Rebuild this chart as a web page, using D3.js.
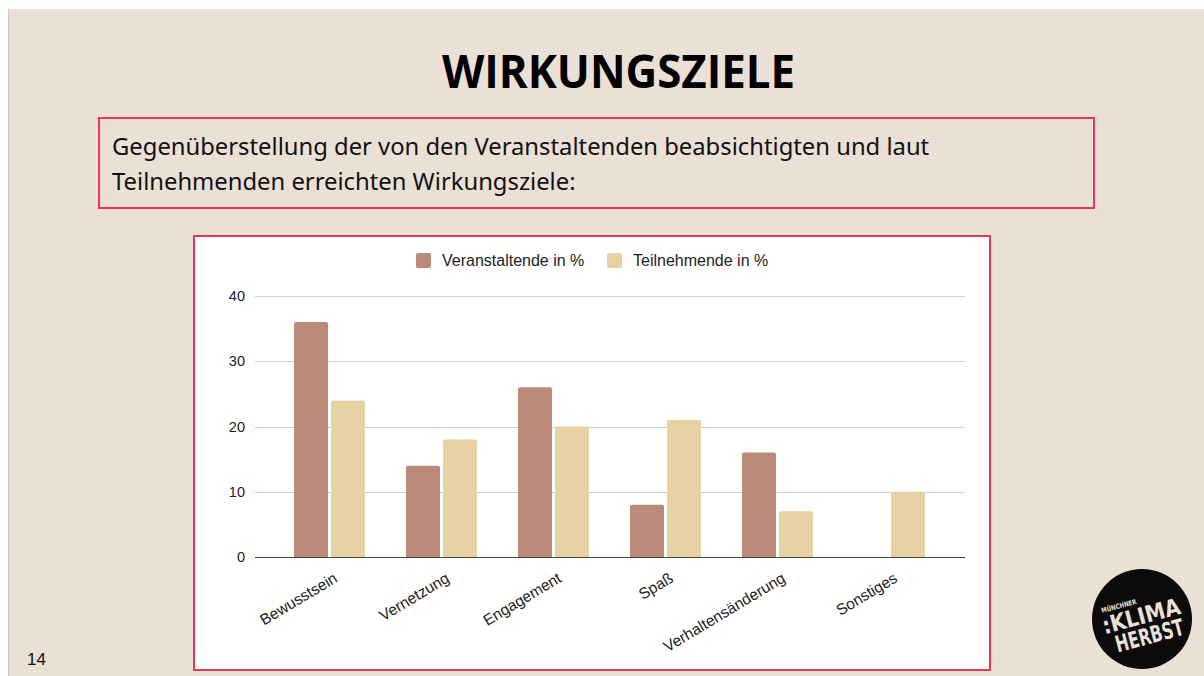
<!DOCTYPE html>
<html>
<head>
<meta charset="utf-8">
<script src="https://cdn.jsdelivr.net/npm/d3@7"></script>
<style>
  html, body { margin: 0; padding: 0; background: #fff; }
  svg { display: block; }
</style>
</head>
<body>
<script>
'use strict';

// chart data
var categories = ["Bewusstsein", "Vernetzung", "Engagement", "Spaß", "Verhaltensänderung", "Sonstiges"];
var seriesNames = ["Veranstaltende in %", "Teilnehmende in %"];
var veranstaltende = [36, 14, 26, 8, 16, 0];
var teilnehmende = [24, 18, 20, 21, 7, 10];
var yTicks = [0, 10, 20, 30, 40];
var seriesColors = ["#bc8a7b", "#e6d1a3"];

var W = 1204, H = 676;
var svg = d3.select("body").append("svg")
    .attr("width", W)
    .attr("height", H);

// slide background
svg.append("rect").attr("width", W).attr("height", H).attr("fill", "#ffffff");
svg.append("rect")
    .attr("x", 8).attr("y", 9)
    .attr("width", W - 8).attr("height", H - 9)
    .attr("fill", "#eae0d6");
svg.append("line")
    .attr("x1", 8.5).attr("x2", 8.5).attr("y1", 9).attr("y2", H)
    .attr("stroke", "#c9c9c9");

// title
svg.append("text")
    .attr("x", 442).attr("y", 88)
    .attr("font-family", "'Open Sans', sans-serif")
    .attr("font-weight", 700)
    .attr("font-size", 46)
    .attr("textLength", 353)
    .attr("lengthAdjust", "spacingAndGlyphs")
    .attr("fill", "#000")
    .text("WIRKUNGSZIELE");

// subtitle box
svg.append("rect")
    .attr("x", 99).attr("y", 118)
    .attr("width", 995).attr("height", 90)
    .attr("fill", "none")
    .attr("stroke", "#e6385a")
    .attr("stroke-width", 2);

var sub = ["Gegenüberstellung der von den Veranstaltenden beabsichtigten und laut",
           "Teilnehmenden erreichten Wirkungsziele:"];
sub.forEach(function(s, i) {
    svg.append("text")
        .attr("x", 112).attr("y", 155 + i * 35)
        .attr("font-family", "'Noto Sans', sans-serif")
        .attr("font-size", 23.8)
        .attr("fill", "#111")
        .text(s);
});

// chart panel
svg.append("rect")
    .attr("x", 194).attr("y", 236)
    .attr("width", 796).attr("height", 434)
    .attr("fill", "#ffffff")
    .attr("stroke", "#e6385a")
    .attr("stroke-width", 2);

var plotLeft = 255, plotRight = 965;
var y = d3.scaleLinear().domain([0, 40]).range([557, 296]);
var x0 = d3.scaleBand().domain(categories).range([273.5, 945.5])
    .paddingInner(0.366).paddingOuter(0.183);
var x1 = d3.scaleBand().domain(seriesNames).range([0, x0.bandwidth()]).paddingInner(0.08);

var labelFont = "'Liberation Sans', Arial, sans-serif";

// grid
var g = svg.append("g");
g.append("g")
    .selectAll("line")
    .data(yTicks.filter(function(d) { return d > 0; }))
    .join("line")
    .attr("x1", plotLeft).attr("x2", plotRight)
    .attr("y1", function(d) { return Math.round(y(d)) + 0.5; })
    .attr("y2", function(d) { return Math.round(y(d)) + 0.5; })
    .attr("stroke", "#d0d0d0");

var yAxis = g.append("g")
    .attr("transform", "translate(" + plotLeft + ",0)")
    .call(d3.axisLeft(y).tickValues(yTicks).tickSize(0).tickPadding(10));
yAxis.select(".domain").remove();
yAxis.selectAll("text")
    .attr("font-family", labelFont)
    .attr("font-size", 14.5)
    .attr("fill", "#222");

// bars
var seriesData = [veranstaltende, teilnehmende];
var bars = g.append("g");
seriesData.forEach(function(vals, si) {
    bars.selectAll(".s" + si)
        .data(vals.map(function(v, i) { return {cat: categories[i], v: v}; })
            .filter(function(d) { return d.v > 0; }))
        .join("path")
        .attr("class", "s" + si)
        .attr("fill", seriesColors[si])
        .attr("d", function(d) {
            var bx = x0(d.cat) + x1(seriesNames[si]);
            var bw = x1.bandwidth();
            var top = y(d.v), bot = y(0), r = 2;
            return "M" + bx + "," + bot +
                "V" + (top + r) +
                "Q" + bx + "," + top + " " + (bx + r) + "," + top +
                "H" + (bx + bw - r) +
                "Q" + (bx + bw) + "," + top + " " + (bx + bw) + "," + (top + r) +
                "V" + bot + "Z";
        });
});

// baseline
g.append("line")
    .attr("x1", plotLeft).attr("x2", plotRight)
    .attr("y1", Math.round(y(0)) + 0.5).attr("y2", Math.round(y(0)) + 0.5)
    .attr("stroke", "#444")
    .attr("stroke-width", 1.2);

// x labels, rotated
var xAxis = g.append("g")
    .attr("transform", "translate(0," + y(0) + ")")
    .call(d3.axisBottom(x0).tickSize(0).tickPadding(0));
xAxis.select(".domain").remove();
xAxis.selectAll("text")
    .attr("font-family", labelFont)
    .attr("font-size", 15.5)
    .attr("fill", "#222")
    .attr("text-anchor", "end")
    .attr("dy", null)
    .attr("transform", "translate(9,24) rotate(-31)");

// legend
var legend = g.append("g");
var legX = [416, 607];
seriesNames.forEach(function(n, i) {
    legend.append("rect")
        .attr("x", legX[i]).attr("y", 253)
        .attr("width", 15).attr("height", 15)
        .attr("rx", 2)
        .attr("fill", seriesColors[i]);
    legend.append("text")
        .attr("x", legX[i] + 26).attr("y", 266)
        .attr("font-family", labelFont)
        .attr("font-size", 16)
        .attr("fill", "#222")
        .text(n);
});

// page number
svg.append("text")
    .attr("x", 27).attr("y", 665)
    .attr("font-family", labelFont)
    .attr("font-size", 17)
    .attr("fill", "#111")
    .text("14");

// logo
var logo = svg.append("g").attr("transform", "translate(1142,619)");
logo.append("circle").attr("r", 50).attr("fill", "#0b0b0b");
var lt = logo.append("g").attr("transform", "rotate(-15)").attr("fill", "#eae0d6")
    .attr("font-family", "'DejaVu Sans Condensed', 'Liberation Sans Narrow', sans-serif")
    .attr("font-weight", "bold");
lt.append("text").attr("x", -37).attr("y", -16).attr("font-size", 7)
    .attr("textLength", 36).attr("lengthAdjust", "spacingAndGlyphs").text("MÜNCHNER");
lt.append("text").attr("x", -40).attr("y", 5).attr("font-size", 23)
    .attr("textLength", 80).attr("lengthAdjust", "spacingAndGlyphs").text(":KLIMA");
lt.append("text").attr("x", -32).attr("y", 26).attr("font-size", 23)
    .attr("textLength", 70).attr("lengthAdjust", "spacingAndGlyphs").text("HERBST");
</script>
</body>
</html>
